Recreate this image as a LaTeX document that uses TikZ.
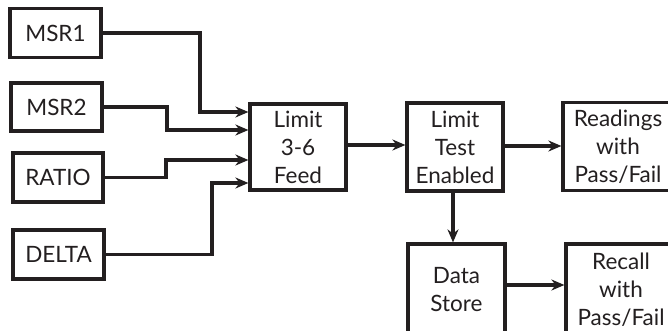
\documentclass[tikz,border=0pt]{standalone}
\usepackage{fontspec}
\setmainfont{Lato}
\usetikzlibrary{arrows.meta}
\definecolor{ink}{HTML}{231F20}
\tikzset{
  blk/.style={draw=ink, line width=3.2pt, rectangle, inner sep=0pt, align=center,
    font=\fontsize{22.5}{28}\selectfont, text=ink},
  arr/.style={draw=ink, line width=3.2pt, -{Stealth[length=13pt,width=11pt]}},
}
\begin{document}
\begin{tikzpicture}[x=1pt,y=-1pt]
\clip (0,0) rectangle (668,330);
\fill[white] (0,0) rectangle (668,330);
\node[blk, minimum width=91pt, minimum height=49pt] (msr1) at (55.5,33) {MSR1};
\node[blk, minimum width=91pt, minimum height=48pt] (msr2) at (56.5,107) {MSR2};
\node[blk, minimum width=90pt, minimum height=49pt] (ratio) at (58,177.5) {RATIO};
\node[blk, minimum width=91pt, minimum height=49pt] (delta) at (58.5,254.5) {DELTA};
\node[blk, minimum width=96pt, minimum height=86pt] (feed) at (298,147) {Limit\\3-6\\Feed};
\node[blk, minimum width=96pt, minimum height=88pt] (lte) at (455,147) {Limit\\Test\\Enabled};
\node[blk, minimum width=110pt, minimum height=88pt] (read) at (618,146.5) {Readings\\with\\Pass/Fail};
\node[blk, minimum width=97pt, minimum height=92pt] (store) at (456.5,290) {Data\\Store};
\node[blk, minimum width=110pt, minimum height=92pt] (recall) at (621,290) {Recall\\with\\Pass/Fail};
\coordinate (t1) at (200,112);
\coordinate (t2) at (167,130);
\coordinate (t3) at (166,160);
\coordinate (t4) at (212,183);
\draw[arr] (msr1.east) -| (t1) -- (feed.west |- t1);
\draw[arr] (msr2.east) -| (t2) -- (feed.west |- t2);
\draw[arr] (ratio.east) -| (t3) -- (feed.west |- t3);
\draw[arr] (delta.east) -| (t4) -- (feed.west |- t4);
\draw[arr] (feed.east |- 0,145) -- (lte.west |- 0,145);
\draw[arr] (lte.east |- 0,146) -- (read.west |- 0,146);
\draw[arr] (lte.south -| 453,0) -- (store.north -| 453,0);
\draw[arr] (store.east |- 0,285) -- (recall.west |- 0,285);
\end{tikzpicture}
\end{document}
